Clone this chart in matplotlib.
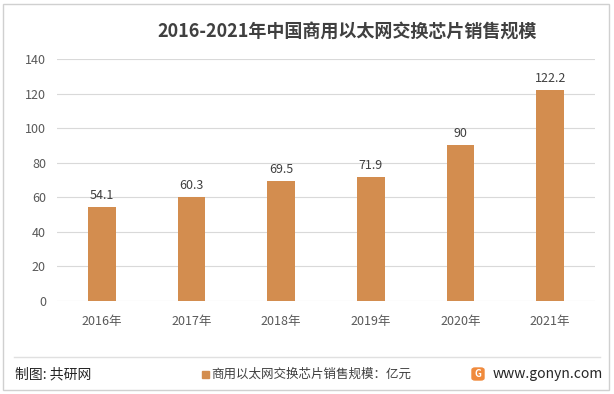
import matplotlib.pyplot as plt
from matplotlib.patches import Rectangle, FancyBboxPatch
from matplotlib.lines import Line2D

plt.rcParams['font.family'] = ['Noto Sans CJK SC', 'DejaVu Sans']

years = ["2016年", "2017年", "2018年", "2019年", "2020年", "2021年"]
sales = [54.1, 60.3, 69.5, 71.9, 90, 122.2]
value_labels = ["54.1", "60.3", "69.5", "71.9", "90", "122.2"]

bar_color = "#D38D4F"

fig = plt.figure(figsize=(6.14, 3.94), dpi=100)
ax = fig.add_axes([57 / 614, 1 - 301 / 394, 538 / 614, 242 / 394])

x = range(len(years))
bars = ax.bar(x, sales, width=0.31, color=bar_color, zorder=3)
for b, lab in zip(bars, value_labels):
    ax.text(b.get_x() + b.get_width() / 2, b.get_height() + 3, lab,
            ha="center", va="bottom", fontsize=9, color="#404040")

ax.set_xlim(-0.5, len(years) - 0.5)
ax.set_ylim(0, 140)
ax.set_yticks(range(0, 141, 20))
ax.set_xticks(list(x))
ax.set_xticklabels(years)
ax.grid(axis="y", color="#D9D9D9", linewidth=0.8, zorder=0)
for s in ax.spines.values():
    s.set_visible(False)
ax.tick_params(axis="both", length=0, labelsize=9, colors="#595959")
ax.tick_params(axis="y", pad=8)
ax.tick_params(axis="x", pad=10)

# title
fig.text(347 / 614, 1 - 32 / 394, "2016-2021年中国商用以太网交换芯片销售规模",
         ha="center", va="center", fontsize=13, fontweight="bold", color="#404040")

# outer border
fig.add_artist(Rectangle((3 / 614, 4 / 394), 606 / 614, 386 / 394,
                         transform=fig.transFigure, fill=False,
                         edgecolor="#D0D0D0", linewidth=1))
# footer separator
fig.add_artist(Line2D([14 / 614, 600 / 614], [1 - 357 / 394, 1 - 357 / 394],
                      transform=fig.transFigure, color="#E0E0E0", linewidth=1))

# footer
fy = 1 - 374 / 394
fig.text(15 / 614, fy, "制图: 共研网", ha="left", va="center", fontsize=10, color="#262626")
fig.add_artist(Rectangle((202 / 614, fy - 3.5 / 394), 7 / 614, 7 / 394,
                         transform=fig.transFigure, color=bar_color))
fig.text(211 / 614, fy, "商用以太网交换芯片销售规模：亿元", ha="left", va="center",
         fontsize=9, color="#404040")
fig.add_artist(FancyBboxPatch((472 / 614, fy - 6 / 394), 12 / 614, 12 / 394,
                              boxstyle="round,pad=0,rounding_size=0.005",
                              transform=fig.transFigure, color="#F08A3C"))
fig.text(478 / 614, fy, "G", ha="center", va="center", fontsize=7,
         fontweight="bold", color="white")
fig.text(493 / 614, fy, "www.gonyn.com", ha="left", va="center", fontsize=10,
         color="#262626")

fig.savefig("out.png", dpi=100)
